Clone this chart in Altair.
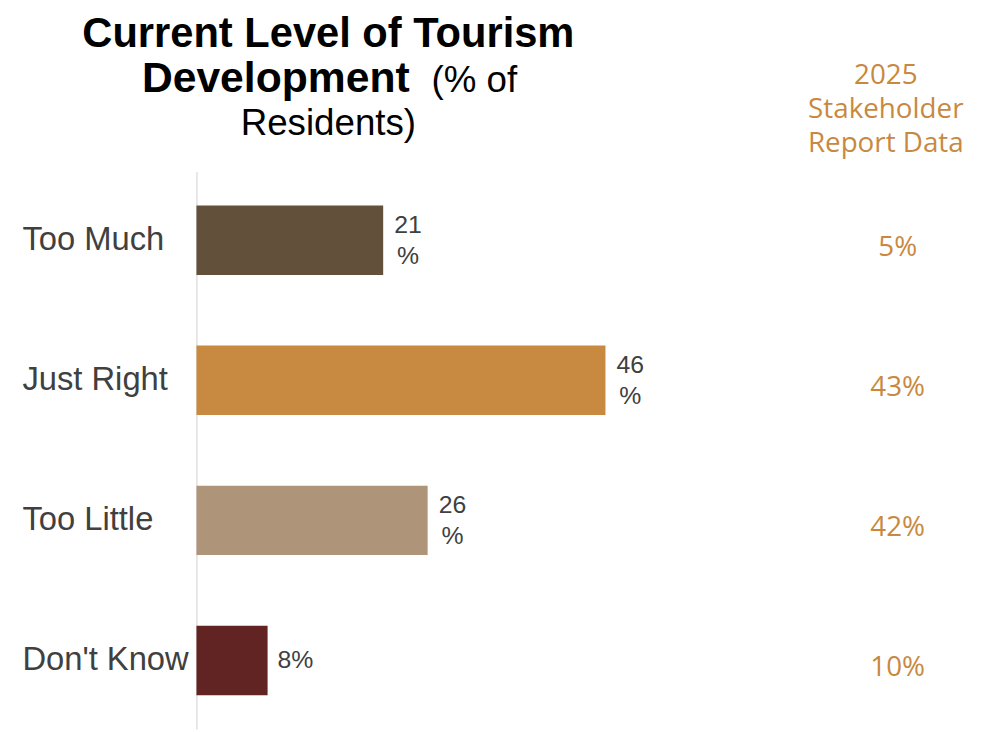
import altair as alt
import pandas as pd

categories = ["Too Much", "Just Right", "Too Little", "Don't Know"]
resident_pct = [21, 46, 26, 8]
value_labels = ["21\n%", "46\n%", "26\n%", "8%"]
stakeholder_labels = ["5%", "43%", "42%", "10%"]
bar_colors = ["#63503B", "#C78A40", "#AE9478", "#612423"]

df = pd.DataFrame({
    "category": categories,
    "pct": resident_pct,
    "label": value_labels,
    "stake": stakeholder_labels,
})

ORANGE = "#C8893F"
TXT = "#404040"

yenc = alt.Y("category:N", sort=categories,
             scale=alt.Scale(paddingInner=0.505, paddingOuter=0.242),
             axis=alt.Axis(title=None, ticks=False, tickSize=0, domain=True,
                           domainColor="#D9D9D9", domainWidth=1.2,
                           labelAlign="left", labelPadding=176, labelLimit=300,
                           labelFontSize=33, labelFont="Liberation Sans",
                           labelColor=TXT, grid=False))
xenc = alt.X("pct:Q", scale=alt.Scale(domain=[0, 79.2]), axis=None)
ysimple = alt.Y("category:N", sort=categories)

base = alt.Chart(df)

bars = base.mark_bar().encode(
    y=yenc, x=xenc,
    color=alt.Color("category:N", sort=categories,
                    scale=alt.Scale(domain=categories, range=bar_colors),
                    legend=None),
)

is_multi = "indexof(datum.label, '\\n') >= 0"

vals_multi = base.transform_filter(is_multi).mark_text(
    align="center", baseline="middle", dx=25, dy=-15, fontSize=25,
    font="Liberation Sans", color=TXT, lineBreak="\n", lineHeight=31).encode(
    y=ysimple, x=xenc, text="label:N")

vals_single = base.transform_filter("!(" + is_multi + ")").mark_text(
    align="center", baseline="middle", dx=28, fontSize=25,
    font="Liberation Sans", color=TXT).encode(
    y=ysimple, x=xenc, text="label:N")

stake = base.mark_text(align="center", baseline="middle", dy=8, fontSize=28,
                       font="Open Sans", color=ORANGE).encode(
    y=ysimple, x=alt.value(707), text="stake:N")

def txt(s, x, y, size, bold=False, align="center", color="#000000",
        font="Liberation Sans", lh=None):
    kw = dict(align=align, baseline="alphabetic", fontSize=size,
              font=font, color=color, fontWeight="bold" if bold else "normal")
    if lh:
        kw.update(lineBreak="\n", lineHeight=lh)
    return alt.Chart(pd.DataFrame({"t": [s]})).mark_text(**kw).encode(
        text="t:N", x=alt.value(x), y=alt.value(y))

t1 = txt("Current Level of Tourism", 133, -126, 42, bold=True)
t2 = txt("Development", -55, -80, 43, bold=True, align="left")
t3 = txt("(% of", 237, -80, 37, align="left")
t4 = txt("Residents)", 133, -37, 37)
hdr = txt("2025\nStakeholder\nReport Data", 695, -88, 28, color=ORANGE,
          font="Open Sans", lh=34)

chart = alt.layer(bars, vals_multi, vals_single, stake, t1, t2, t3, t4, hdr).properties(
    width=710, height=562,
    autosize=alt.AutoSizeParams(type="none"),
    padding={"left": 190, "top": 162, "right": 83, "bottom": 0},
).configure_view(stroke=None)

chart.save("out.html", embed_options={"renderer": "svg", "actions": False})
